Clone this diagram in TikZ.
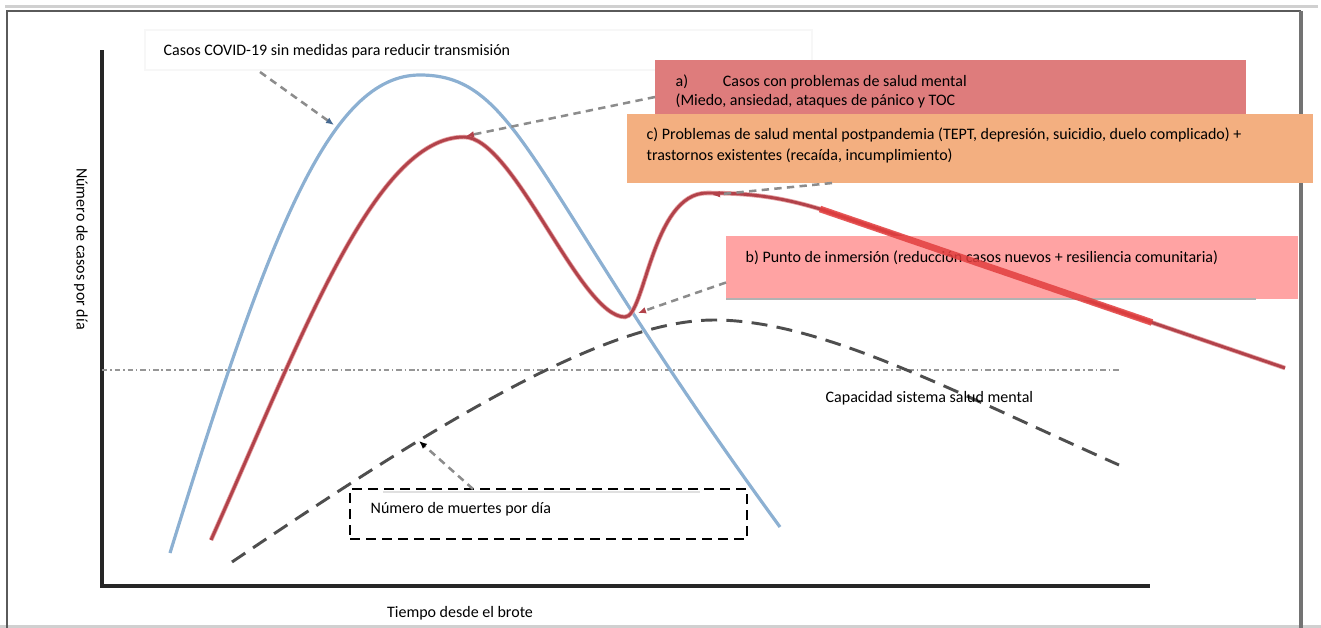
\documentclass[tikz,border=0pt]{standalone}
\usepackage{fontspec}
\setmainfont{Carlito}
\usepackage{tikz}
\usetikzlibrary{arrows.meta}

\definecolor{curveblue}{RGB}{140,176,210}
\definecolor{arrowblue}{RGB}{70,105,145}
\definecolor{curvered}{RGB}{178,66,74}
\definecolor{halored}{RGB}{228,160,162}
\definecolor{brightred}{RGB}{226,62,62}
\definecolor{deathgray}{RGB}{78,78,78}
\definecolor{annotgray}{RGB}{140,140,140}
\definecolor{capgray}{RGB}{150,150,150}
\definecolor{framegray}{RGB}{90,90,90}
\definecolor{bandgray}{RGB}{208,208,208}
\definecolor{boxared}{RGB}{222,124,124}
\definecolor{boxcorange}{RGB}{243,175,128}
\definecolor{boxbpink}{RGB}{255,163,163}

\begin{document}
\begin{tikzpicture}[x=0.75pt, y=-0.75pt, line width=1pt,
    lbl/.style={font=\fontsize{12}{14.5}\selectfont, inner sep=0pt, anchor=base west},
    panel/.style={inner sep=0pt, outer sep=0pt, anchor=north west},
    annot/.style={color=annotgray, line width=1.9pt, dash pattern=on 5.5pt off 4pt},
    tipred/.style={-{Latex[length=6pt, width=5pt, color=curvered]}},
    tipblue/.style={-{Latex[length=6pt, width=5pt, color=arrowblue]}},
    tipblack/.style={-{Latex[length=6pt, width=5pt, color=black]}}]

    \useasboundingbox (0,0) rectangle (1321,628);

    % draw page frame
    \draw[color=bandgray, line width=2.25pt] (5,6) -- (1318,6);
    \draw[color=bandgray, line width=2.25pt] (0,626.5) -- (1321,626.5);
    \draw[color=framegray, line width=1.5pt] (7,628) -- (7,11) -- (1301,11);
    \draw[color=framegray!85, line width=3pt] (1301,11) -- (1301,628);

    % draw axes
    \coordinate (origin) at (102,586);
    \draw[color=black!85, line width=2.6pt] (102,50) -- (origin) -- (1150,586);

    % draw capacity line
    \draw[color=capgray, line width=1.5pt, dash pattern=on 4pt off 2.2pt on 1.2pt off 2.2pt]
      (102,370) -- (1120,370);

    % draw covid cases curve
    \draw[color=curveblue, line width=2.4pt]
      (170,553) .. controls (270,230) and (330,75) .. (420,75)
                .. controls (520,75) and (530,185) .. (780,527);

    % draw mental health curve
    \draw[draw=halored, double=curvered, double distance=2.2pt, line width=0.6pt]
      (211,540) .. controls (301,339) and (374,137) .. (464,137)
                .. controls (514,137) and (580,317) .. (625,317)
                .. controls (645,317) and (652,193) .. (707,193)
                .. controls (750,193) and (780,197) .. (820,209)
                -- (1285,368);

    % draw deaths curve
    \draw[color=deathgray, line width=2.2pt, dash pattern=on 12pt off 7pt]
      (232,562) .. controls (420,435) and (600,320) .. (714,320)
                .. controls (820,320) and (950,390) .. (1119,465);

    % points hit by the arrows
    \coordinate (bluehit) at (334,125);
    \coordinate (redpeak) at (466,136);
    \coordinate (redtop) at (712,195);
    \coordinate (reddip) at (638,313);
    \coordinate (deathhit) at (419,441);

    % draw boxes
    \node[panel, fill=white, draw=black!3, minimum width=500.25pt, minimum height=30pt]
      (covid) at (145,30) {};
    \node[panel, fill=boxared, minimum width=443.25pt, minimum height=40.5pt] (boxa) at (655,60) {};
    \node[panel, fill=boxcorange, minimum width=514.5pt, minimum height=51.75pt] (boxc) at (627,114) {};
    \node[panel, fill=boxbpink, minimum width=429pt, minimum height=47.25pt] (boxb) at (726,236) {};
    \draw[color=black!30, line width=1pt] (boxb.south west) -- ([shift={(530,0)}]boxb.south west);
    \draw[color=black!12, line width=2.2pt] (383,492) -- (700,492);
    \node[panel, draw=black, line width=1.5pt, dash pattern=on 7.5pt off 4.5pt,
      minimum width=297.75pt, minimum height=37.5pt] (muertes) at (350,489) {};

    % draw arrows
    \draw[annot, tipblue] ([shift={(115,2)}]covid.south west) -- (bluehit);
    \draw[annot, tipred] ([shift={(0,10)}]boxa.west) -- (redpeak);
    \draw[annot, tipred] ([shift={(205,0)}]boxc.south west) -- (redtop);
    \draw[annot, tipred] ([shift={(0,15)}]boxb.west) -- (reddip);
    \draw[annot, tipblack] ([shift={(123,0)}]muertes.north west) -- (deathhit);

    % draw labels
    \node[lbl] (covidtxt) at (163,55) {Casos COVID-19 sin medidas para reducir transmisión};
    \node[lbl] (atxt) at (675,86) {a)\hspace{26pt}Casos con problemas de salud mental};
    \node[lbl] (atxtb) at (675,105) {(Miedo, ansiedad, ataques de pánico y TOC};
    \node[lbl] (ctxt) at (646,139) {c) Problemas de salud mental postpandemia (TEPT, depresión, suicidio, duelo complicado) +};
    \node[lbl] (ctxtb) at (646,160) {trastornos existentes (recaída, incumplimiento)};
    \node[lbl] (btxt) at (745,262) {b) Punto de inmersión (reducción casos nuevos + resiliencia comunitaria)};
    \node[lbl] (captxt) at (825,402) {Capacidad sistema salud mental};
    \node[lbl] (muertestxt) at (370,513) {Número de muertes por día};
    \node[lbl, anchor=base] (xlabel) at (460,617) {Tiempo desde el brote};
    \node[lbl, anchor=center, rotate=-90] (ylabel) at (81,249) {Número de casos por día};

    % draw highlighted stretch
    \draw[color=brightred, opacity=0.85, line width=5pt] (820,209) -- (1152,322.5);

\end{tikzpicture}
\end{document}
